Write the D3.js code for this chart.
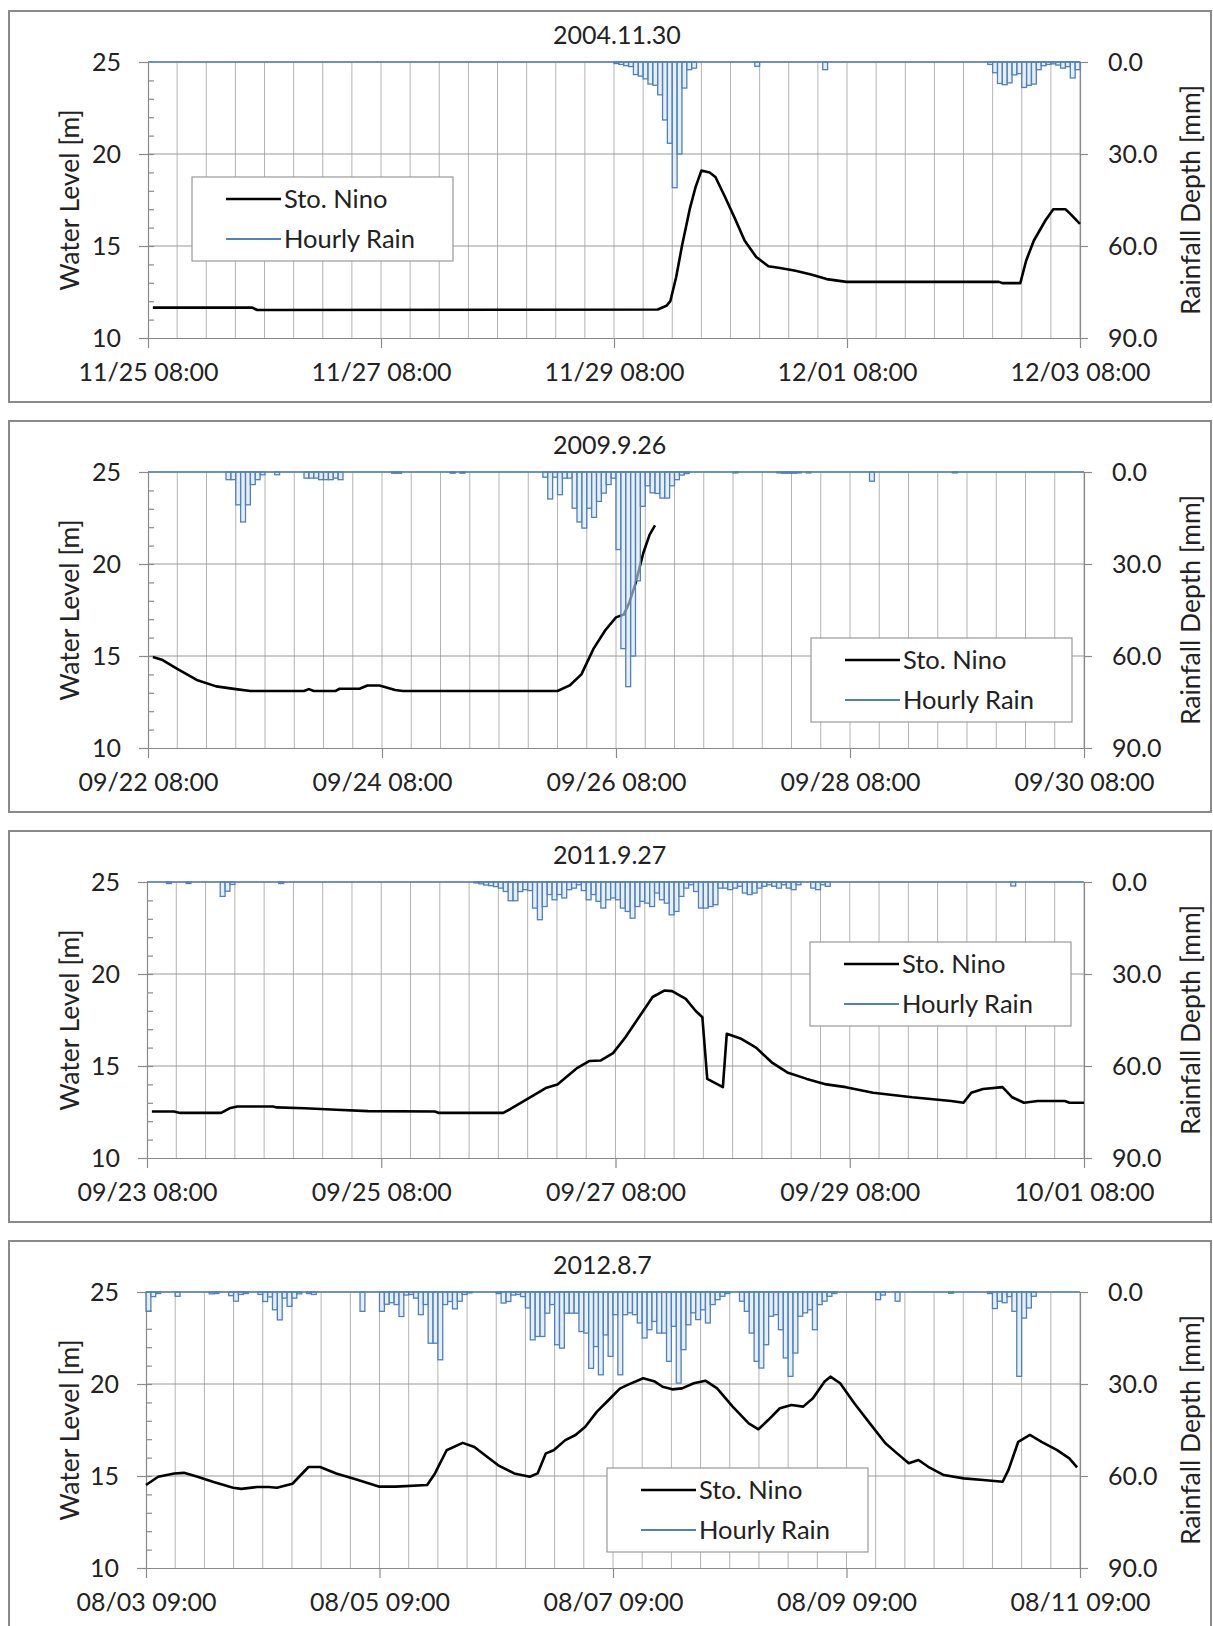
<!DOCTYPE html>
<html>
<head>
<meta charset="utf-8">
<script src="https://cdn.jsdelivr.net/npm/d3@7"></script>
<style>
  body { margin: 0; background: #fff; }
  svg text { font-family: Lato, "Open Sans", sans-serif; fill: #222; }
</style>
</head>
<body>
<svg id="chart" width="1213" height="1626"></svg>
<script>
// ---- data (hour offset from the first tick, value) ----
var titles = ["2004.11.30", "2009.9.26", "2011.9.27", "2012.8.7"];
var starts = [new Date(2004, 10, 25, 8), new Date(2009, 8, 22, 8), new Date(2011, 8, 23, 8), new Date(2012, 7, 3, 9)];
var waterTicks = [10, 15, 20, 25];
var rainTicks = [0, 30, 60, 90];
var seriesNames = ["Sto. Nino", "Hourly Rain"];

// hourly rain [hour, mm]  (zero hours left out)
var rain2004 = [[96,0.5],[97,0.8],[98,1.2],[99,1.5],[100,4.1],[101,4.6],[102,5.5],[103,7.2],[104,7.6],[105,10.7],
  [106,18.9],[107,26.5],[108,41],[109,30],[110,8.5],[111,2.5],[112,2.0],[125,1.4],[139,2.5],
  [173,0.8],[174,3.5],[175,7.0],[176,7.4],[177,6.8],[178,4.2],[179,3.8],[180,8.3],[181,7.6],[182,7.2],
  [183,2.5],[184,1.2],[185,0.8],[186,0.6],[187,1.0],[188,2.0],[189,1.5],[190,5.2],[191,2.5]];

var rain2009 = [[16,2.5],[17,2.5],[18,10.7],[19,16.3],[20,10.7],[21,4.1],[22,2.5],[23,0.9],[26,0.9],
  [32,2.0],[33,2.0],[34,2.0],[35,2.5],[36,2.5],[37,2.5],[38,2.0],[39,2.5],[50,0.4],[51,0.4],[62,0.4],[64,0.4],
  [81,1.7],[82,8.8],[83,1.7],[84,7.4],[85,2.0],[86,2.0],[87,11.8],[88,16.3],[89,18.3],[90,11.8],[91,14.8],
  [92,9.6],[93,6.9],[94,4.1],[95,2.0],[96,25.3],[97,57.6],[98,70],[99,60],[100,35.5],[101,11.2],[102,4.5],
  [103,6.8],[104,7.0],[105,8.5],[106,8.5],[107,4.5],[108,2.5],[109,1.0],[110,0.5],[120,0.3],[129,0.3],
  [130,0.4],[131,0.4],[132,0.4],[133,0.3],[135,0.3],[148,3.0],[165,0.3]];

var rain2011 = [[4,0.5],[8,0.5],[15,4.7],[16,3.0],[17,0.8],[27,0.5],[67,0.3],[68,0.6],[69,1.0],[70,1.2],
  [71,1.5],[72,2.0],[73,3.1],[74,6.1],[75,6.1],[76,3.1],[77,2.5],[78,2.8],[79,8.5],[80,12.3],[81,8.0],
  [82,4.1],[83,5.8],[84,4.1],[85,5.2],[86,2.5],[87,2.0],[88,0.9],[89,2.8],[90,5.8],[91,4.1],[92,6.3],
  [93,8.5],[94,5.8],[95,5.2],[96,5.8],[97,8.5],[98,9.6],[99,11.8],[100,8.0],[101,6.3],[102,6.9],[103,8.0],
  [104,3.6],[105,5.8],[106,6.9],[107,10.7],[108,9.6],[109,4.7],[110,2.0],[111,0.9],[112,3.1],[113,8.5],
  [114,8.5],[115,8.0],[116,7.4],[117,2.0],[118,2.0],[119,2.5],[120,2.0],[121,1.4],[122,3.6],[123,4.1],
  [124,3.6],[125,2.0],[126,1.4],[127,0.9],[128,1.4],[129,2.0],[130,0.9],[131,2.0],[132,2.5],[133,0.9],
  [136,2.0],[137,2.5],[138,0.9],[139,1.4],[177,1.3]];

var rain2012 = [[0,6.3],[1,1.5],[2,0.5],[6,1.4],[13,0.6],[14,0.5],[17,1.2],[18,3.0],[19,0.8],[20,0.5],
  [23,0.8],[24,3.1],[25,1.6],[26,5.8],[27,9.1],[28,2.0],[29,4.7],[30,2.0],[31,0.6],[33,0.5],[34,0.8],
  [44,6.3],[48,6.3],[49,4.0],[50,3.5],[51,4.1],[52,8.0],[53,1.0],[54,0.8],[55,2.0],[56,7.4],[57,4.1],
  [58,16.7],[59,16.7],[60,22.1],[61,4.1],[62,3.1],[63,5.5],[64,3.0],[65,0.8],[66,0.3],[72,0.5],[73,3.6],
  [74,3.1],[75,1.0],[76,0.8],[77,1.5],[78,5.2],[79,15.6],[80,14.5],[81,14.5],[82,6.9],[83,4.1],[84,17.2],
  [85,18.3],[86,6.9],[87,6.9],[88,6.9],[89,12.9],[90,13.4],[91,24.9],[92,17.8],[93,27.0],[94,14.0],
  [95,21.0],[96,7.4],[97,27.0],[98,7.4],[99,6.8],[100,7.4],[101,10.1],[102,15.0],[103,12.3],[104,9.6],
  [105,13.4],[106,13.4],[107,22.6],[108,11.2],[109,29.7],[110,18.8],[111,10.7],[112,6.8],[113,9.0],
  [114,5.8],[115,10.1],[116,4.1],[117,2.5],[118,1.4],[119,0.5],[122,3.0],[123,6.3],[124,13.4],[125,22.6],
  [126,24.8],[127,17.2],[128,7.9],[129,7.4],[130,12.3],[131,21.5],[132,27.5],[133,19.9],[134,7.9],
  [135,6.8],[136,5.8],[137,12.3],[138,4.1],[139,3.0],[140,1.4],[141,0.5],[150,2.5],[151,1.0],[154,3.0],
  [165,0.4],[173,0.5],[174,5.4],[175,3.0],[176,3.5],[177,1.5],[178,6.3],[179,27.5],[180,8.5],[181,5.2],[182,1.4]];

// water level at Sto. Nino [hour, m]
var level2004 = [[1,11.65],[21.5,11.65],[22.5,11.52],[105,11.55],[106.8,11.75],[107.6,12.0],[108.8,13.3],
  [110,15.0],[111.6,17.0],[112.8,18.2],[114,19.1],[115.7,19.0],[116.9,18.75],[118.9,17.65],[120.9,16.5],
  [122.9,15.3],[125.3,14.4],[127.8,13.9],[130.2,13.8],[133.4,13.65],[136.6,13.45],[139.8,13.2],[143.9,13.05],
  [175.3,13.05],[176.1,12.98],[179.7,12.98],[180.9,14.2],[182.5,15.3],[184.9,16.4],[186.5,17.0],[189,17.0],
  [189.8,16.8],[192,16.2]];

var level2009 = [[1,14.95],[3,14.78],[6,14.3],[10,13.7],[14,13.35],[18,13.2],[21,13.1],[32,13.1],[33,13.2],
  [34,13.1],[38.5,13.1],[39.3,13.22],[43.4,13.22],[45,13.4],[47.5,13.4],[50.7,13.15],[52.3,13.1],[84,13.1],
  [86.5,13.4],[88.9,14.0],[91.4,15.4],[93.8,16.4],[96,17.1],[97.6,17.25],[98.8,17.95],[100,18.95],
  [101.6,20.6],[102.9,21.6],[104,22.1]];

var level2011 = [[1,12.53],[5.5,12.53],[6.8,12.45],[15.2,12.45],[16.9,12.7],[18.5,12.8],[25.8,12.8],
  [26.6,12.75],[32.3,12.7],[38.8,12.62],[45.3,12.55],[59,12.53],[59.8,12.45],[73,12.45],[74.4,12.65],
  [78.5,13.3],[81.7,13.8],[84.1,14.0],[88.2,14.9],[90.6,15.27],[93,15.3],[95.5,15.7],[98,16.55],
  [100.8,17.65],[103.6,18.75],[106,19.1],[107.6,19.07],[110.4,18.65],[112.4,18.0],[113.8,17.65],
  [114.8,14.3],[118,13.85],[118.8,16.75],[121.6,16.5],[124.8,16.0],[128,15.2],[131.2,14.65],[135.2,14.3],
  [139.2,14.0],[143.2,13.85],[148.8,13.55],[156.8,13.3],[164.8,13.1],[167.3,13.0],[168.9,13.55],
  [171.3,13.75],[175.3,13.85],[177.3,13.3],[179.7,13.0],[182.5,13.1],[188.1,13.1],[189,13.0],[192,13.0]];

var level2012 = [[0,14.51],[2.5,14.96],[5.8,15.14],[7.8,15.17],[10.6,14.96],[13.9,14.67],[17.9,14.36],
  [19.6,14.3],[22.8,14.4],[25.3,14.4],[26.9,14.36],[30.1,14.58],[33.4,15.49],[35.8,15.49],[39.1,15.14],
  [43.1,14.82],[48,14.42],[51.3,14.42],[57.8,14.51],[59.4,15.14],[61.8,16.4],[65.1,16.8],[67.5,16.58],
  [72.4,15.58],[75.7,15.14],[78.9,14.96],[80.5,15.14],[82.2,16.23],[83.8,16.4],[86.2,16.95],[88.3,17.23],
  [90.3,17.68],[92.7,18.5],[95.1,19.13],[97.4,19.75],[99,19.95],[102.2,20.31],[104.6,20.13],[106.2,19.85],
  [108.2,19.71],[110.2,19.76],[112.6,20.04],[115,20.18],[117.4,19.76],[120.6,18.77],[123.9,17.86],
  [125.9,17.54],[127.9,18.04],[130.3,18.68],[132.7,18.86],[135.1,18.77],[137.1,19.22],[139.5,20.13],
  [140.7,20.4],[142.7,20.04],[145.6,18.95],[148.8,17.86],[152,16.78],[154.4,16.23],[156.8,15.69],
  [158.8,15.87],[160.8,15.5],[164,15.05],[168.1,14.87],[172.1,14.78],[176.1,14.69],[177.3,15.33],
  [179.3,16.86],[181.7,17.23],[184.1,16.86],[187.3,16.41],[189.8,15.96],[191.4,15.47]];

var rains = [rain2004, rain2009, rain2011, rain2012];
var levels = [level2004, level2009, level2011, level2012];

// ---- layout per panel ----
var layout = [
  { top: 11,   left: 148, right: 1080, legend: [192, 166] },
  { top: 421,  left: 148, right: 1084, legend: [811, 217] },
  { top: 831,  left: 147, right: 1084, legend: [810, 111] },
  { top: 1241, left: 146, right: 1080, legend: [607, 227] }
];

var rainBlue = "#4f81bd";
var svg = d3.select("#chart");
var fmt = d3.timeFormat("%m/%d %H:%M");

layout.forEach(function(p, i) {
  drawPanel(p, titles[i], starts[i], rains[i], levels[i]);
});

function drawPanel(p, title, start, rain, level) {
  var g = svg.append("g");
  var top = p.top + 51, bottom = p.top + 327;
  var hour = function(h) { return new Date(+start + h * 3600e3); };

  var x = d3.scaleTime().domain([start, hour(192)]).range([p.left, p.right]);
  var yL = d3.scaleLinear().domain([10, 25]).range([bottom, top]);
  var yR = d3.scaleLinear().domain([0, 90]).range([top, bottom]);

  g.append("rect")
    .attr("x", 9).attr("y", p.top).attr("width", 1202).attr("height", 391)
    .attr("fill", "#fff").attr("stroke", "#8a8a8a").attr("stroke-width", 2);

  // vertical grid every 6 hours
  g.selectAll(".vg").data(d3.range(6, 193, 6)).enter().append("line")
    .attr("x1", function(d) { return x(hour(d)); })
    .attr("x2", function(d) { return x(hour(d)); })
    .attr("y1", top).attr("y2", bottom)
    .attr("stroke", "#b4b4b4").attr("stroke-width", 1);

  // horizontal grid
  g.selectAll(".hg").data([15, 20, 25]).enter().append("line")
    .attr("x1", p.left).attr("x2", p.right)
    .attr("y1", function(d) { return yL(d); })
    .attr("y2", function(d) { return yL(d); })
    .attr("stroke", "#9a9a9a").attr("stroke-width", 1.2);

  // axes
  var xAxis = g.append("g")
    .attr("transform", "translate(0," + bottom + ")")
    .call(d3.axisBottom(x)
      .tickValues(d3.range(0, 193, 48).map(hour))
      .tickFormat(fmt).tickSize(10).tickSizeOuter(0).tickPadding(15));

  var leftAxis = g.append("g")
    .attr("transform", "translate(" + p.left + ",0)")
    .call(d3.axisLeft(yL).tickValues(waterTicks).tickSize(9).tickSizeOuter(0).tickPadding(18));

  g.append("g")
    .attr("transform", "translate(" + p.left + ",0)")
    .call(d3.axisLeft(yL).tickValues(d3.range(11, 25, 1)).tickSize(-6).tickSizeOuter(0).tickFormat(""))
    .select(".domain").remove();

  var rightAxis = g.append("g")
    .attr("transform", "translate(" + p.right + ",0)")
    .call(d3.axisRight(yR).tickValues(rainTicks).tickFormat(d3.format(".1f"))
      .tickSize(8).tickSizeOuter(0).tickPadding(20));

  g.selectAll(".domain, .tick line").attr("stroke", "#8a8a8a").attr("stroke-width", 1.2);
  [xAxis, leftAxis, rightAxis].forEach(function(a) {
    a.attr("font-family", "Lato").attr("font-size", 25);
    a.selectAll("text").attr("fill", "#222");
  });

  // axis titles
  g.append("text")
    .attr("transform", "translate(70," + (top + bottom) / 2 + ") rotate(-90)")
    .attr("text-anchor", "middle").attr("dy", "0.35em")
    .attr("font-size", 26.5).text("Water Level [m]");
  g.append("text")
    .attr("transform", "translate(1191," + (top + bottom) / 2 + ") rotate(-90)")
    .attr("text-anchor", "middle").attr("dy", "0.35em")
    .attr("font-size", 26.5).text("Rainfall Depth [mm]");

  // water level line
  var line = d3.line()
    .x(function(d) { return x(hour(d[0])); })
    .y(function(d) { return yL(d[1]); });
  g.append("path").datum(level)
    .attr("d", line).attr("fill", "none")
    .attr("stroke", "#000").attr("stroke-width", 2.6).attr("stroke-linejoin", "round");

  // hourly rain hanging from the top
  g.selectAll(".bar").data(rain).enter().append("rect")
    .attr("x", function(d) { return x(hour(d[0])); })
    .attr("width", function(d) { return x(hour(d[0] + 1)) - x(hour(d[0])); })
    .attr("y", yR(0))
    .attr("height", function(d) { return yR(d[1]) - yR(0); })
    .attr("fill", "#d5e3f4").attr("fill-opacity", 0.6)
    .attr("stroke", rainBlue).attr("stroke-width", 1.3);

  g.append("line")
    .attr("x1", p.left).attr("x2", p.right)
    .attr("y1", yR(0)).attr("y2", yR(0))
    .attr("stroke", rainBlue).attr("stroke-width", 1.6);

  // legend
  var lg = g.append("g").attr("transform", "translate(" + p.legend[0] + "," + (p.top + p.legend[1]) + ")");
  lg.append("rect").attr("width", 261).attr("height", 84)
    .attr("fill", "#fff").attr("stroke", "#999").attr("stroke-width", 1.2);
  var rows = lg.selectAll(".row").data(seriesNames).enter().append("g")
    .attr("transform", function(d, k) { return "translate(0," + (22 + k * 40) + ")"; });
  rows.append("line").attr("x1", 34).attr("x2", 89)
    .attr("stroke", function(d, k) { return k === 0 ? "#000" : rainBlue; })
    .attr("stroke-width", function(d, k) { return k === 0 ? 2.6 : 2; });
  rows.append("text").attr("x", 92).attr("dy", "0.36em")
    .attr("font-size", 25.5).text(function(d) { return d; });

  // title
  g.append("text").attr("x", 553).attr("y", p.top + 33)
    .attr("font-size", 25).text(title);
}
</script>
</body>
</html>
